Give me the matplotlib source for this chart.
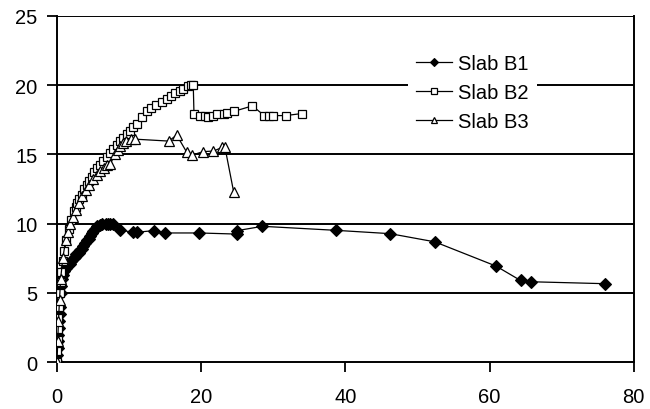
import matplotlib
matplotlib.use("Agg")
import matplotlib.pyplot as plt

plt.rcParams['font.family'] = ['Liberation Sans', 'DejaVu Sans']

# Slab B1
b1_x = [0, 0.05, 0.1, 0.15, 0.2, 0.25, 0.3, 0.35, 0.4, 0.5, 0.6, 0.7, 0.85, 1.0, 1.2,
        1.5, 1.8, 2.0, 2.3, 2.5, 2.7, 3.0, 3.2, 3.4, 3.65, 3.9, 4.1, 4.4, 4.6, 4.8,
        5.0, 5.3, 5.6, 5.9, 6.2, 6.8, 7.1, 7.4, 7.8, 8.8, 10.6, 11.1, 13.4, 15.0,
        19.7, 24.9, 25.0, 28.5, 38.7, 46.2, 52.4, 60.9, 64.3, 65.7, 76.0]
b1_y = [0, 0.5, 1.0, 1.5, 2.0, 2.5, 3.0, 3.5, 4.0, 5.0, 5.5, 6.0, 6.3, 6.6, 6.8,
        7.0, 7.1, 7.3, 7.5, 7.6, 7.8, 7.9, 8.1, 8.2, 8.4, 8.6, 8.8, 8.9, 9.1, 9.3,
        9.5, 9.65, 9.8, 9.9, 10.0, 9.95, 10.0, 10.0, 10.0, 9.53, 9.38, 9.38, 9.5, 9.33,
        9.33, 9.25, 9.5, 9.81, 9.52, 9.28, 8.69, 6.94, 5.9, 5.81, 5.67]

# Slab B2
b2_x = [0, 0.05, 0.1, 0.15, 0.2, 0.3, 0.4, 0.5, 0.6, 0.8, 1.0, 1.3, 1.6, 2.0, 2.3,
        2.6, 2.8, 3.1, 3.4, 3.8, 4.1, 4.5, 4.8, 5.2, 5.6, 6.0, 6.4, 6.9, 7.3, 7.8,
        8.3, 8.8, 9.2, 9.7, 10.1, 10.6, 11.1, 11.8, 12.5, 13.1, 13.8, 14.5, 15.2,
        15.8, 16.4, 17.0, 17.5, 18.2, 18.6, 18.9, 19.0, 19.9, 20.5, 21.0, 21.6, 22.2,
        23.1, 23.6, 24.5, 27.1, 28.75, 29.4, 30.0, 31.7, 34.0]
b2_y = [0, 0.8, 1.6, 2.4, 3.2, 4.0, 5.0, 5.8, 6.5, 7.3, 8.0, 8.8, 9.6, 10.3, 10.9,
        11.2, 11.5, 11.8, 12.1, 12.5, 12.8, 13.1, 13.4, 13.7, 14.0, 14.2, 14.5, 14.8,
        15.1, 15.4, 15.7, 15.95, 16.2, 16.45, 16.7, 16.95, 17.2, 17.7, 18.1, 18.35,
        18.6, 18.8, 19.0, 19.2, 19.4, 19.55, 19.7, 19.95, 19.98, 19.98, 17.95, 17.8,
        17.75, 17.7, 17.8, 17.9, 17.95, 18.0, 18.1, 18.5, 17.8, 17.75, 17.8, 17.8, 17.95]

# Slab B3
b3_x = [0, 0.1, 0.2, 0.35, 0.5, 0.8, 1.2, 1.5, 1.8, 2.2, 2.6, 3.0, 3.5, 4.0, 4.5,
        5.0, 5.5, 6.0, 6.5, 7.0, 7.4, 8.0, 8.4, 8.8, 9.2, 9.6, 10.2, 10.8, 15.5, 16.6,
        18.0, 18.7, 20.3, 21.7, 22.9, 23.3, 24.5]
b3_y = [0, 1.5, 3.0, 4.5, 6.0, 7.5, 8.8, 9.4, 10.0, 10.5, 11.0, 11.5, 12.0, 12.4, 12.8,
        13.2, 13.5, 13.8, 14.0, 14.2, 14.3, 15.0, 15.3, 15.6, 15.8, 16.0, 16.1, 16.1,
        15.96, 16.4, 15.15, 14.95, 15.2, 15.24, 15.5, 15.5, 12.3]

x_ticks = [0, 20, 40, 60, 80]
y_ticks = [0, 5, 10, 15, 20, 25]

fig = plt.figure(figsize=(6.5, 4.1), dpi=100)
ax = fig.add_axes([0.0877, 0.114, 0.8873, 0.845])

for yt in y_ticks[1:]:
    ax.axhline(yt, color='black', lw=1.4, zorder=1)

ax.plot(b1_x, b1_y, color='black', lw=0.9, marker='D', ms=6, mfc='black', mec='black',
        mew=0.8, label='Slab B1', zorder=3)
ax.plot(b2_x, b2_y, color='black', lw=0.9, marker='s', ms=6, mfc='white', mec='black',
        mew=0.9, label='Slab B2', zorder=3)
ax.plot(b3_x, b3_y, color='black', lw=0.9, marker='^', ms=6.5, mfc='white', mec='black',
        mew=0.9, label='Slab B3', zorder=3)

ax.set_xlim(0, 80)
ax.set_ylim(0, 25)
ax.set_xticks(x_ticks)
ax.set_yticks(y_ticks)
ax.tick_params(axis='both', direction='out', length=7, width=1.3, labelsize=14.5,
               color='black')
ax.tick_params(axis='y', pad=7)
ax.tick_params(axis='x', pad=11)
for s in ax.spines.values():
    s.set_linewidth(1.4)
ax.spines['top'].set_visible(False)

leg = ax.legend(loc='upper left', bbox_to_anchor=(398 / 650, 1 - 37 / 410),
                bbox_transform=fig.transFigure, fontsize=14.5, frameon=True,
                handlelength=1.8, handletextpad=0.3, labelspacing=0.5,
                borderpad=0.4, markerscale=0.7, fancybox=False)
leg.get_frame().set_facecolor('white')
leg.get_frame().set_edgecolor('none')
leg.get_frame().set_alpha(1)
leg.set_zorder(5)

fig.savefig('out.png', dpi=100)
